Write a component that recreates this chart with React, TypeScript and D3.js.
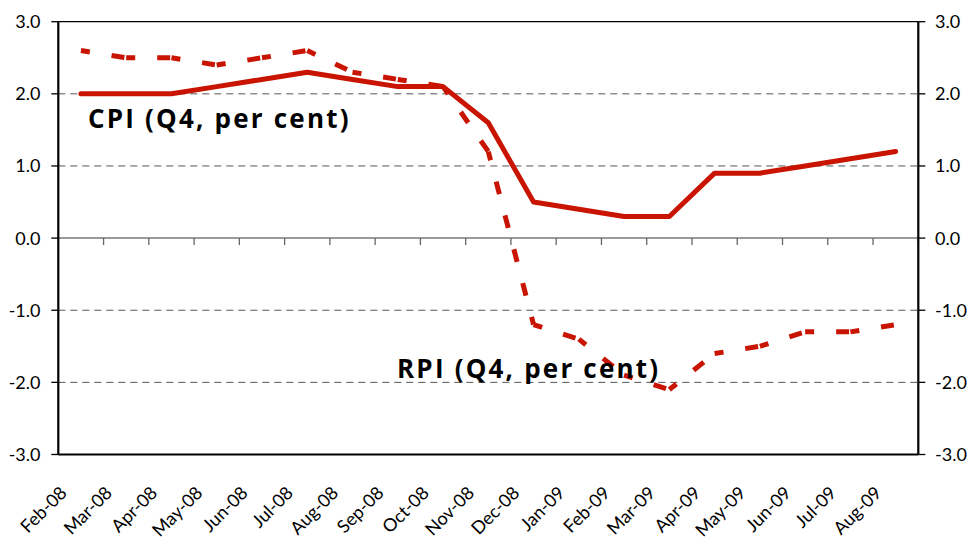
import * as d3 from "d3";

const months = [
  "Feb-08", "Mar-08", "Apr-08", "May-08", "Jun-08", "Jul-08", "Aug-08", "Sep-08", "Oct-08", "Nov-08",
  "Dec-08", "Jan-09", "Feb-09", "Mar-09", "Apr-09", "May-09", "Jun-09", "Jul-09", "Aug-09",
];
const cpi = [2.0, 2.0, 2.0, 2.1, 2.2, 2.3, 2.2, 2.1, 2.1, 1.6, 0.5, 0.4, 0.3, 0.3, 0.9, 0.9, 1.0, 1.1, 1.2];
const rpi = [2.6, 2.5, 2.5, 2.4, 2.5, 2.6, 2.3, 2.2, 2.1, 1.2, -1.2, -1.4, -1.9, -2.1, -1.6, -1.5, -1.3, -1.3, -1.2];
const yTicks = [-3, -2, -1, 0, 1, 2, 3];
const gridTicks = [-2, -1, 1, 2];

const W = 970;
const H = 542;
const L = 58.3;
const R = 918.3;
const T = 21.7;
const B = 454.5;
const RED = "#c81400";
const FONT = "Lato, 'DejaVu Sans', sans-serif";
const BOLD = "'Open Sans', Lato, sans-serif";

export default function App() {
  const x = d3.scaleBand<string>().domain(months).range([L, R]).padding(0);
  const y = d3.scaleLinear().domain([-3, 3]).range([B, T]);
  const cx = (m: string) => x(m)! + x.bandwidth() / 2;

  const line = d3.line<[string, number]>()
    .x(d => cx(d[0]))
    .y(d => y(d[1]));

  const cpiPts: [string, number][] = months.map((m, i) => [m, cpi[i]]);
  const rpiPts: [string, number][] = months.map((m, i) => [m, rpi[i]]);
  // dash pattern restarts on every segment, like the source chart
  const rpiSegs = d3.pairs(rpiPts);

  const y0 = y(0);

  return (
    <svg width={W} height={H} style={{ position: "absolute", left: 0, top: 0, background: "#fff" }}>
      {/* dashed gridlines */}
      {gridTicks.map(t => (
        <line key={t} x1={L} x2={R} y1={y(t)} y2={y(t)} stroke="#555" strokeWidth={1} strokeDasharray="7 5" />
      ))}

      {/* zero line with category ticks */}
      <line x1={L} x2={R} y1={y0} y2={y0} stroke="#777" strokeWidth={1.5} />
      {months.map(m => (
        <line key={m} x1={x(m)! + x.bandwidth()} x2={x(m)! + x.bandwidth()} y1={y0} y2={y0 + 7} stroke="#666" strokeWidth={1.3} />
      ))}

      {/* frame */}
      <line x1={L} x2={R} y1={T} y2={T} stroke="#000" strokeWidth={1.3} />
      <line x1={L} x2={R} y1={B} y2={B} stroke="#000" strokeWidth={2.2} />
      <line x1={L} x2={L} y1={T} y2={B} stroke="#000" strokeWidth={2.2} />
      <line x1={R} x2={R} y1={T} y2={B} stroke="#000" strokeWidth={2.2} />

      {/* y ticks and labels */}
      {yTicks.map(t => (
        <g key={t}>
          <line x1={L - 7} x2={L} y1={y(t)} y2={y(t)} stroke="#000" strokeWidth={1.3} />
          <line x1={R} x2={R + 7} y1={y(t)} y2={y(t)} stroke="#000" strokeWidth={1.3} />
          <text x={40.5} y={y(t)} dy="0.36em" textAnchor="end" fontFamily={FONT} fontSize={18} fill="#000">
            {t.toFixed(1)}
          </text>
          <text x={935} y={y(t)} dy="0.36em" textAnchor="start" fontFamily={FONT} fontSize={18} fill="#000">
            {t.toFixed(1)}
          </text>
        </g>
      ))}

      {/* x labels */}
      {months.map(m => (
        <text
          key={m}
          transform={`translate(${cx(m) - 13},${494}) rotate(-45)`}
          textAnchor="end"
          fontFamily={FONT}
          fontSize={18}
          fill="#000"
        >
          {m}
        </text>
      ))}

      {/* RPI dashed */}
      {rpiSegs.map((s, i) => (
        <path
          key={i}
          d={line(s)!}
          fill="none"
          stroke={RED}
          strokeWidth={5}
          strokeDasharray="13 22"
          strokeDashoffset={4}
        />
      ))}

      {/* CPI solid */}
      <path d={line(cpiPts)!} fill="none" stroke={RED} strokeWidth={5} strokeLinejoin="round" strokeLinecap="round" />

      {/* annotations */}
      <text x={88} y={128} fontFamily={BOLD} fontSize={26} fontWeight={700} letterSpacing={2.2} fill="#000">CPI (Q4, per cent)</text>
      <text x={397} y={378} fontFamily={BOLD} fontSize={26} fontWeight={700} letterSpacing={2.2} fill="#000">RPI (Q4, per cent)</text>
    </svg>
  );
}
